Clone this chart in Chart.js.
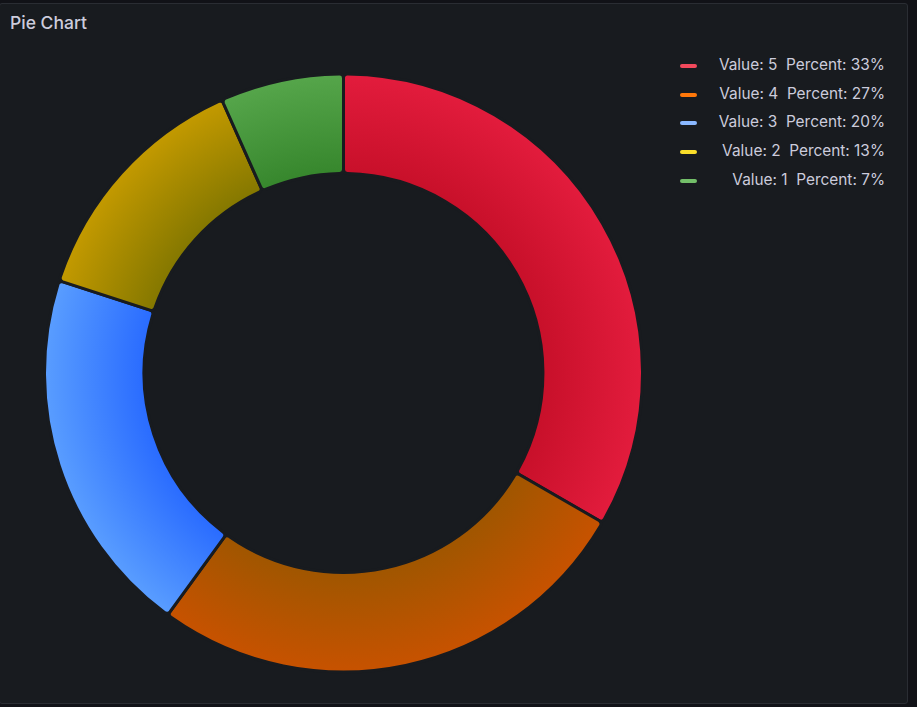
<!DOCTYPE html>
<html>
<head>
<meta charset="utf-8">
<script src="https://cdn.jsdelivr.net/npm/chart.js@4/dist/chart.umd.min.js"></script>
<style>
  html, body { margin: 0; padding: 0; background: #111217; width: 917px; height: 707px; overflow: hidden; font-family: Inter, "Open Sans", sans-serif; }
  #panel { position: absolute; left: -1px; top: 3px; width: 907px; height: 699px; background: #181b1f; border: 1px solid #2a2d33; border-radius: 3px; }
  #title { position: absolute; left: 10px; top: 12px; color: #ccccdc; font-size: 17.5px; font-weight: 500; }
  #wrap { position: absolute; left: 43px; top: 72px; width: 601px; height: 602px; }
  #legend { position: absolute; left: 680px; top: 55px; width: 205px; }
  .item { position: relative; height: 28.7px; color: #ccccdc; font-size: 15.4px; }
  .mark { position: absolute; left: 0; top: 9px; width: 17px; height: 4px; border-radius: 2px; }
  .txt { position: absolute; right: 0; top: 0px; white-space: pre; }
</style>
</head>
<body>
<div id="panel"></div>
<div id="title">Pie Chart</div>
<div id="wrap"><canvas id="c" width="601" height="602"></canvas></div>
<div id="legend"></div>
<script>
const categories = ["Value: 5", "Value: 4", "Value: 3", "Value: 2", "Value: 1"];
const values = [5, 4, 3, 2, 1];
const legendColors = ["#f2495c", "#ff780a", "#8ab8ff", "#fade2a", "#73bf69"];
const outerColors = ["#e31c3d", "#c85200", "#5a9eff", "#c49a00", "#56a64b"];
const innerColors = ["#c8102a", "#a05600", "#2a6cff", "#857800", "#37872d"];
const cutoutFrac = 0.667;

const total = values.reduce((a, b) => a + b, 0);
const legend = document.getElementById('legend');
categories.forEach((c, i) => {
  const pct = Math.round(values[i] / total * 100);
  const d = document.createElement('div');
  d.className = 'item';
  d.innerHTML = '<span class="mark" style="background:' + legendColors[i] + '"></span><span class="txt">' + c + '  Percent: ' + pct + '%</span>';
  legend.appendChild(d);
});

function grad(ctx) {
  const chart = ctx.chart;
  const i = ctx.dataIndex;
  const a = chart.chartArea;
  if (!a) return outerColors[i];
  const cx = (a.left + a.right) / 2, cy = (a.top + a.bottom) / 2;
  const r = Math.min(a.right - a.left, a.bottom - a.top) / 2;
  const g = chart.ctx.createRadialGradient(cx, cy, r * cutoutFrac, cx, cy, r);
  g.addColorStop(0, innerColors[i]);
  g.addColorStop(1, outerColors[i]);
  return g;
}

new Chart(document.getElementById('c'), {
  type: 'doughnut',
  data: {
    labels: categories,
    datasets: [{
      data: values,
      backgroundColor: grad,
      borderColor: '#181b1f',
      borderWidth: 3,
      borderRadius: 4,
      hoverOffset: 0
    }]
  },
  options: {
    responsive: false,
    animation: false,
    cutout: (cutoutFrac * 100) + '%',
    layout: { padding: 0 },
    plugins: { legend: { display: false }, tooltip: { enabled: false } }
  }
});
</script>
</body>
</html>
